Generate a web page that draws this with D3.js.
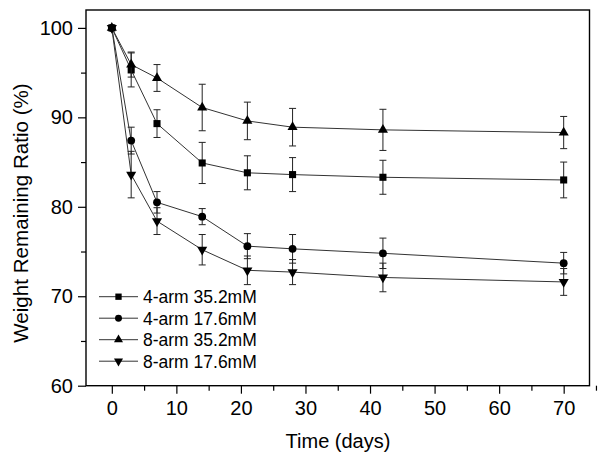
<!DOCTYPE html>
<html><head><meta charset="utf-8">
<script src="https://cdn.jsdelivr.net/npm/d3@7"></script>
<style>body{margin:0;background:#fff}svg{display:block}text{font-family:"Liberation Sans",Arial,sans-serif;fill:#000}</style>
</head><body><svg id="c" width="600" height="461"></svg>
<script>
const days = [0, 3, 7, 14, 21, 28, 42, 70];
const seriesNames = ["4-arm 35.2mM", "4-arm 17.6mM", "8-arm 35.2mM", "8-arm 17.6mM"];
const arm4_352 = [100, 95.3, 89.3, 84.9, 83.8, 83.6, 83.3, 83.0];
const arm4_352_err = [0, 1.9, 1.55, 2.3, 1.9, 1.9, 1.9, 2.0];
const arm4_176 = [100, 87.4, 80.5, 78.9, 75.6, 75.3, 74.8, 73.7];
const arm4_176_err = [0, 1.5, 1.2, 0.9, 1.4, 1.6, 1.7, 1.2];
const arm8_352 = [100, 95.9, 94.4, 91.1, 89.6, 88.9, 88.6, 88.3];
const arm8_352_err = [0, 1.4, 1.5, 2.6, 2.1, 2.1, 2.3, 1.8];
const arm8_176 = [100, 83.6, 78.4, 75.2, 72.9, 72.7, 72.1, 71.6];
const arm8_176_err = [0, 2.6, 1.5, 1.7, 1.6, 1.4, 1.6, 1.5];
const xTicks = [0, 10, 20, 30, 40, 50, 60, 70];
const yTicks = [60, 70, 80, 90, 100];

const series = [
  {name: seriesNames[0], v: arm4_352, e: arm4_352_err, sym: d3.symbolSquare, size: 50, rot: 0},
  {name: seriesNames[1], v: arm4_176, e: arm4_176_err, sym: d3.symbolCircle, size: 48, rot: 0},
  {name: seriesNames[2], v: arm8_352, e: arm8_352_err, sym: d3.symbolTriangle, size: 44, rot: 0},
  {name: seriesNames[3], v: arm8_176, e: arm8_176_err, sym: d3.symbolTriangle, size: 44, rot: 180}
];

const svg = d3.select("#c");
const L = 86, R = 589.5, T = 10, B = 385.7;
const x = d3.scaleLinear().domain([-4, 74]).range([L, R]);
const y = d3.scaleLinear().domain([60, 102]).range([B, T]);

// frame
svg.append("rect").attr("x", L).attr("y", T).attr("width", R - L).attr("height", B - T)
  .attr("fill", "none").attr("stroke", "#000").attr("stroke-width", 1.4);

// x axis
const xa = svg.append("g").attr("transform", `translate(0,${B})`)
  .call(d3.axisBottom(x).tickValues(xTicks).tickSize(8).tickPadding(7).tickFormat(d3.format("d")));
xa.select(".domain").remove();
xa.selectAll("text").attr("font-size", 20).attr("font-family", "Liberation Sans, Arial, sans-serif");
xa.selectAll("line").attr("stroke-width", 1.2);
const xm = svg.append("g").attr("transform", `translate(0,${B})`)
  .call(d3.axisBottom(x).tickValues(xTicks.map(d => d + 5)).tickSize(5).tickFormat(""));
xm.select(".domain").remove();
xm.selectAll("line").attr("stroke-width", 1.2);

// y axis
const ya = svg.append("g").attr("transform", `translate(${L},0)`)
  .call(d3.axisLeft(y).tickValues(yTicks).tickSize(8).tickPadding(5).tickFormat(d3.format("d")));
ya.select(".domain").remove();
ya.selectAll("text").attr("font-size", 20).attr("font-family", "Liberation Sans, Arial, sans-serif");
ya.selectAll("line").attr("stroke-width", 1.2);
const ym = svg.append("g").attr("transform", `translate(${L},0)`)
  .call(d3.axisLeft(y).tickValues(yTicks.slice(0, -1).map(d => d + 5)).tickSize(5).tickFormat(""));
ym.select(".domain").remove();
ym.selectAll("line").attr("stroke-width", 1.2);

// titles
svg.append("text").attr("x", 338).attr("y", 448).attr("text-anchor", "middle")
  .attr("font-size", 20).text("Time (days)");
svg.append("text").attr("transform", `translate(28,213) rotate(-90)`).attr("text-anchor", "middle")
  .attr("font-size", 20.6).text("Weight Remaining Ratio (%)");

// series
const line = d3.line().x(d => x(d[0])).y(d => y(d[1]));
series.forEach(s => {
  const pts = days.map((d, i) => [d, s.v[i], s.e[i]]);
  const g = svg.append("g");
  g.append("path").attr("d", line(pts)).attr("fill", "none").attr("stroke", "#333").attr("stroke-width", 1);
  pts.filter(p => p[2] > 0).forEach(p => {
    const cx = x(p[0]), y1 = y(p[1] + p[2]), y2 = y(p[1] - p[2]);
    g.append("line").attr("x1", cx).attr("x2", cx).attr("y1", y1).attr("y2", y2).attr("stroke", "#222").attr("stroke-width", 1);
    [y1, y2].forEach(yy => g.append("line").attr("x1", cx - 3.5).attr("x2", cx + 3.5).attr("y1", yy).attr("y2", yy)
      .attr("stroke", "#222").attr("stroke-width", 1));
  });
  g.selectAll("path.m").data(pts).join("path").attr("class", "m")
    .attr("d", d3.symbol().type(s.sym).size(s.size))
    .attr("transform", p => `translate(${x(p[0])},${y(p[1])}) rotate(${s.rot})`)
    .attr("fill", "#000");
});

// legend
const lg = svg.append("g");
series.forEach((s, i) => {
  const yy = 296.7 + i * 21.5;
  lg.append("line").attr("x1", 99).attr("x2", 138).attr("y1", yy).attr("y2", yy).attr("stroke", "#333").attr("stroke-width", 1);
  lg.append("path").attr("d", d3.symbol().type(s.sym).size(s.size * 0.8)).attr("transform", `translate(118.5,${yy}) rotate(${s.rot})`).attr("fill", "#000");
  lg.append("text").attr("x", 143).attr("y", yy).attr("dy", "0.36em").attr("font-size", 17.5).text(s.name);
});
</script></body></html>
